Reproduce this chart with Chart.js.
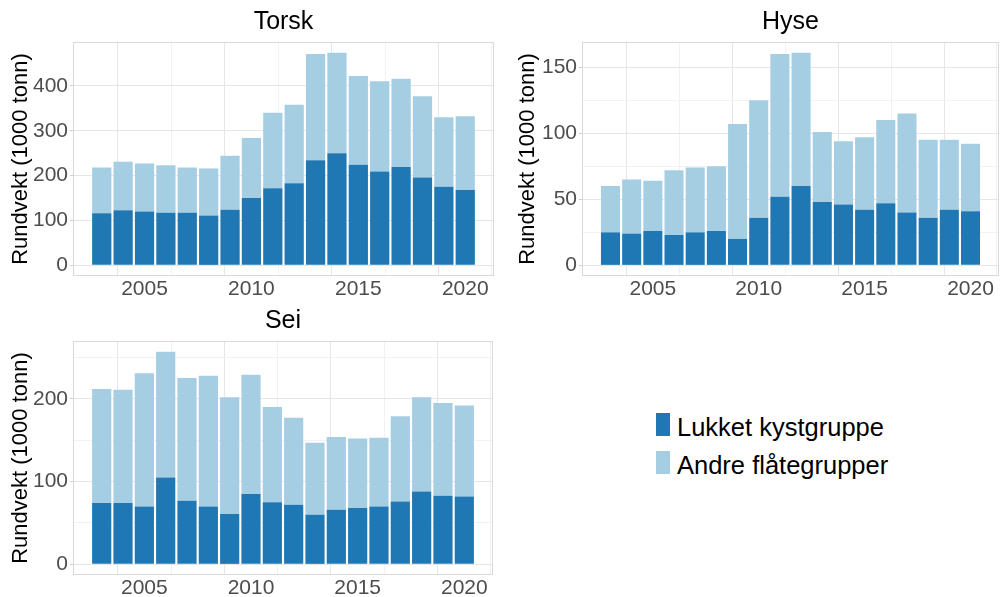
<!DOCTYPE html>
<html>
<head>
<meta charset="utf-8">
<script src="https://cdn.jsdelivr.net/npm/chart.js@4.4.1/dist/chart.umd.min.js"></script>
<style>
  body { margin: 0; background: #fff; width: 1000px; height: 597px; position: relative; overflow: hidden; font-family: 'Liberation Sans', Arial, sans-serif; }
  .panel { position: absolute; }
  .key { position: absolute; width: 14px; height: 23px; }
  .lbl { position: absolute; font-size: 25.5px; line-height: 30px; color: #000; white-space: nowrap; }
</style>
</head>
<body>
<div class="panel" style="left:0;top:0"><canvas id="torsk" width="500" height="300"></canvas></div>
<div class="panel" style="left:500px;top:0"><canvas id="hyse" width="500" height="300"></canvas></div>
<div class="panel" style="left:0;top:300px"><canvas id="sei" width="500" height="297"></canvas></div>

<div class="key" style="left:656px;top:413px;background:#1F78B4"></div>
<div class="lbl" style="left:677px;top:412px">Lukket kystgruppe</div>
<div class="key" style="left:656px;top:451px;background:#A6CEE3"></div>
<div class="lbl" style="left:677px;top:450px">Andre flåtegrupper</div>

<script>
// years and landings (1000 tonn)
const years = [2003, 2004, 2005, 2006, 2007, 2008, 2009, 2010, 2011, 2012, 2013, 2014, 2015, 2016, 2017, 2018, 2019, 2020];

const torskLukket = [116, 123, 120, 117, 117, 111, 124, 150, 172, 183, 234, 250, 224, 209, 219, 196, 175, 168];
const torskAndre  = [102, 108, 107, 106, 101, 105, 120, 134, 168, 175, 237, 224, 198, 201, 197, 181, 155, 164];

const hyseLukket = [25, 24, 26, 23, 25, 26, 20, 36, 52, 60, 48, 46, 42, 47, 40, 36, 42, 41];
const hyseAndre  = [35, 41, 38, 49, 49, 49, 87, 89, 108, 101, 53, 48, 55, 63, 75, 59, 53, 51];

const seiLukket = [74, 74, 70, 105, 77, 70, 61, 85, 75, 72, 60, 66, 68, 70, 76, 88, 83, 82];
const seiAndre  = [138, 137, 161, 152, 148, 158, 141, 144, 115, 105, 87, 88, 84, 83, 103, 114, 112, 110];

const xGridTicks = [2002.5, 2005, 2007.5, 2010, 2012.5, 2015, 2017.5, 2020];
const seriesNames = ["Lukket kystgruppe", "Andre flåtegrupper"];

const darkBlue = "#1F78B4";
const lightBlue = "#A6CEE3";
const fontFamily = "'Liberation Sans', Arial, sans-serif";

Chart.defaults.font.family = fontFamily;

const panelBorder = {
  id: "panelBorder",
  afterDraw(chart) {
    const { ctx, chartArea: a } = chart;
    ctx.save();
    ctx.strokeStyle = "#D9D9D9";
    ctx.lineWidth = 1;
    ctx.strokeRect(Math.round(a.left) + 0.5, Math.round(a.top) + 0.5, Math.round(a.width) - 1, Math.round(a.height) - 1);
    ctx.restore();
  },
};

const makePanel = (id, title, lukket, andre, box, gridStep, labelStep, yTitlePad) => {
  const canvas = document.getElementById(id);
  const totals = lukket.map((v, i) => v + andre[i]);
  const top = Math.max(...totals);
  const xMin = years[0] - 0.45 - 0.05 * (years.length - 0.1);
  const xMax = years[years.length - 1] + 0.45 + 0.05 * (years.length - 0.1);

  const isMajorX = (v) => Math.abs(v % 5) < 1e-6;
  const isMajorY = (v) => Math.abs(v % labelStep) < 1e-6;

  return new Chart(canvas.getContext("2d"), {
    type: "bar",
    data: {
      datasets: [
        {
          label: seriesNames[0],
          data: years.map((yr, i) => ({ x: yr, y: lukket[i] })),
          backgroundColor: darkBlue,
          barPercentage: 0.9,
          categoryPercentage: 1,
        },
        {
          label: seriesNames[1],
          data: years.map((yr, i) => ({ x: yr, y: andre[i] })),
          backgroundColor: lightBlue,
          barPercentage: 0.9,
          categoryPercentage: 1,
        },
      ],
    },
    options: {
      responsive: false,
      animation: false,
      layout: { padding: { top: 0, left: 0, right: canvas.width - box.right, bottom: 0 } },
      plugins: {
        legend: { display: false },
        tooltip: { enabled: false },
        title: {
          display: true,
          text: title,
          fullSize: false,
          color: "#000",
          font: { size: 25, weight: "normal", lineHeight: 1.2 },
          padding: { top: box.top - 35, bottom: 5 },
        },
      },
      scales: {
        x: {
          type: "linear",
          stacked: true,
          min: xMin,
          max: xMax,
          offset: false,
          border: { display: false },
          grid: {
            drawTicks: false,
            color: (ctx) => (ctx.tick && isMajorX(ctx.tick.value) ? "#E6E6E6" : "#F2F2F2"),
          },
          ticks: {
            autoSkip: false,
            maxRotation: 0,
            padding: 1,
            color: "#4D4D4D",
            font: { size: 21 },
            callback: (v) => (isMajorX(v) ? String(v) : ""),
          },
          afterBuildTicks: (s) => {
            s.ticks = xGridTicks.map((v) => ({ value: v }));
          },
          afterFit: (s) => {
            s.height = canvas.height - box.bottom;
            s.paddingLeft = 0;
            s.paddingRight = 0;
          },
        },
        y: {
          stacked: true,
          min: -0.05 * top,
          max: 1.05 * top,
          border: { display: false },
          grid: {
            tickLength: 3,
            color: (ctx) => (ctx.tick && isMajorY(ctx.tick.value) ? "#E6E6E6" : "#F2F2F2"),
            tickColor: (ctx) => (ctx.tick && isMajorY(ctx.tick.value) ? "#CCCCCC" : "rgba(0,0,0,0)"),
          },
          ticks: {
            padding: 2,
            color: "#4D4D4D",
            font: { size: 21 },
            callback: (v) => (isMajorY(v) ? String(v) : ""),
          },
          title: {
            display: true,
            text: "Rundvekt (1000 tonn)",
            color: "#000",
            font: { size: 22, lineHeight: 1.2 },
            padding: { top: yTitlePad, bottom: 0 },
          },
          afterBuildTicks: (s) => {
            const ticks = [];
            for (let v = 0; v <= s.max; v += gridStep) ticks.push({ value: v });
            s.ticks = ticks;
          },
          afterFit: (s) => {
            s.width = box.left;
            s.paddingTop = 0;
            s.paddingBottom = 0;
          },
        },
      },
    },
    plugins: [panelBorder],
  });
};

makePanel("torsk", "Torsk", torskLukket, torskAndre, { left: 73, top: 42, right: 494, bottom: 276 }, 50, 100, 8);
makePanel("hyse", "Hyse", hyseLukket, hyseAndre, { left: 82, top: 42, right: 499, bottom: 276 }, 25, 50, 15);
makePanel("sei", "Sei", seiLukket, seiAndre, { left: 73, top: 41, right: 493, bottom: 275 }, 50, 100, 8);
</script>
</body>
</html>
